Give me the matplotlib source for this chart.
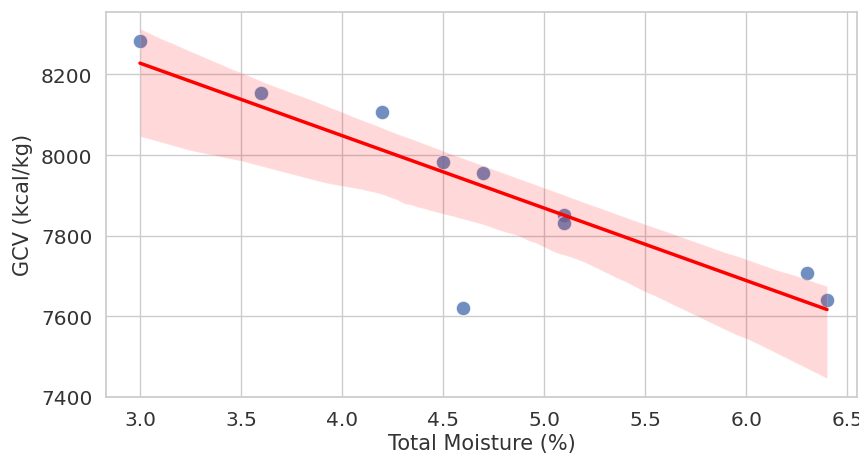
import numpy as np
import pandas as pd
import seaborn as sns
import matplotlib
matplotlib.use("Agg")
import matplotlib.pyplot as plt

# values
total_moisture = [3.0, 3.6, 4.2, 4.5, 4.6, 4.7, 5.1, 5.1, 6.3, 6.4]
gcv = [8282, 8155, 8107, 7982, 7621, 7955, 7850, 7832, 7708, 7641]

df = pd.DataFrame({"Total Moisture (%)": total_moisture, "GCV (kcal/kg)": gcv})

sns.set_theme(style="whitegrid")
plt.rcParams['font.family'] = ['DejaVu Sans']

fig, ax = plt.subplots(figsize=(8.59, 4.6), dpi=100)
fig.subplots_adjust(left=0.123, right=0.998, top=0.972, bottom=0.135)

sns.scatterplot(data=df, x="Total Moisture (%)", y="GCV (kcal/kg)", s=110, alpha=0.8, ax=ax)
sns.regplot(data=df, x="Total Moisture (%)", y="GCV (kcal/kg)", scatter=False,
            color="red", seed=3, line_kws={"linewidth": 2.5}, ax=ax)

ax.set_xlim(2.83, 6.55)
ax.set_ylim(7400, 8355)
ax.set_xlabel("Total Moisture (%)", fontsize=15, color="#333333", labelpad=3)
ax.set_ylabel("GCV (kcal/kg)", fontsize=15, color="#333333", labelpad=6)
ax.tick_params(labelsize=14.5, labelcolor="#333333")

fig.savefig("out.png")
